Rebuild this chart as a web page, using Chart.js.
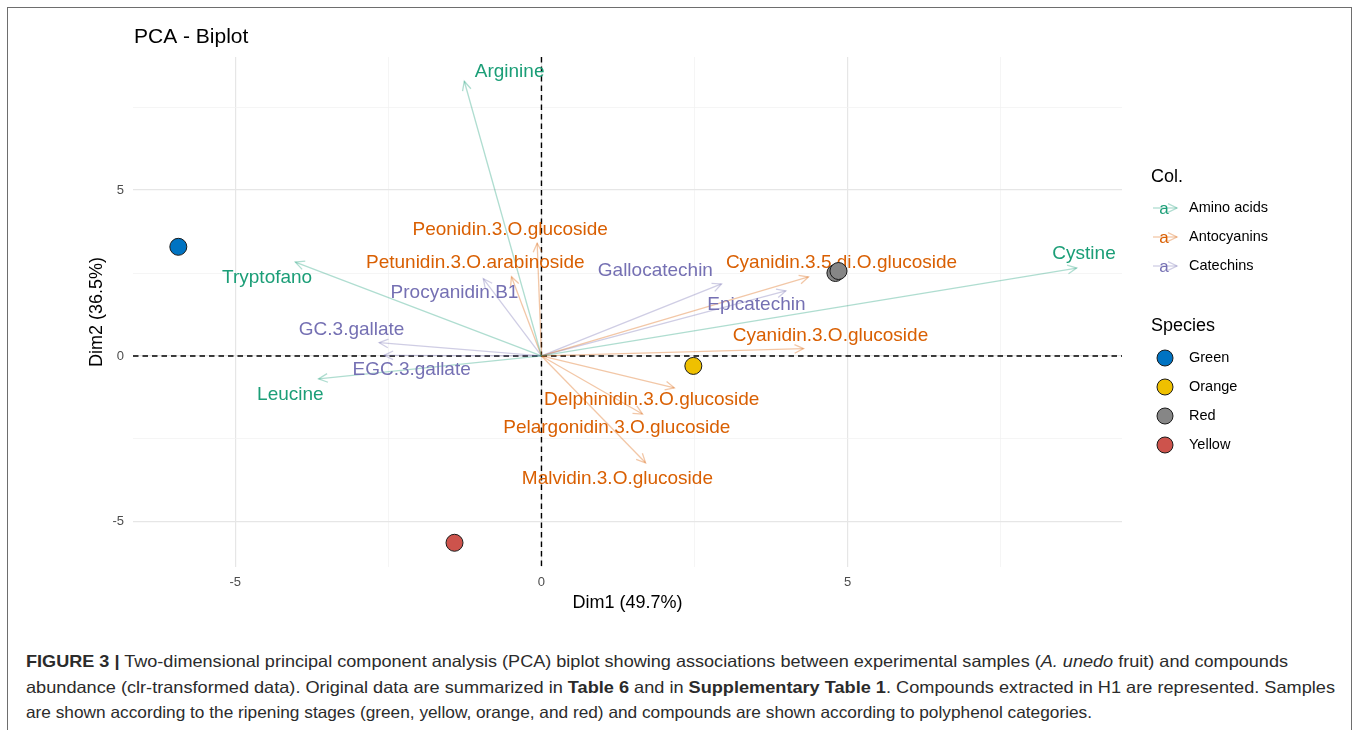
<!DOCTYPE html>
<html>
<head>
<meta charset="utf-8">
<script src="https://cdn.jsdelivr.net/npm/chart.js@4.4.1/dist/chart.umd.min.js"></script>
<style>
  html, body { margin: 0; padding: 0; background: #fff; }
  body { width: 1360px; height: 730px; position: relative; overflow: hidden; font-family: "Liberation Sans", Arial, sans-serif; }
  #frame { position: absolute; left: 7px; top: 7px; width: 1345px; height: 760px; border: 1.5px solid #6e6e6e; box-sizing: border-box; }
  #chartBox { position: absolute; left: 0; top: 0; width: 1360px; height: 625px; }
  #caption { position: absolute; left: 26px; top: 649px; font-size: 16.5px; line-height: 25.5px; color: #2b2b2b; }
  #caption div { white-space: nowrap; transform-origin: 0 50%; }
</style>
</head>
<body>
<div id="frame"></div>
<div id="chartBox"><canvas id="biplot" width="1360" height="625"></canvas></div>
<div id="caption">
  <div class="capLine"><b>FIGURE 3 |</b> Two-dimensional principal component analysis (PCA) biplot showing associations between experimental samples (<i>A. unedo</i> fruit) and compounds</div>
  <div class="capLine">abundance (clr-transformed data). Original data are summarized in <b>Table 6</b> and in <b>Supplementary Table 1</b>. Compounds extracted in H1 are represented. Samples</div>
  <div class="capLine">are shown according to the ripening stages (green, yellow, orange, and red) and compounds are shown according to polyphenol categories.</div>
</div>
<script>
// variables (arrows) : coordonnées sur Dim1 / Dim2
const varNames = ['Arginine', 'Tryptofano', 'Leucine', 'Cystine',
  'Peonidin.3.O.glucoside', 'Petunidin.3.O.arabinoside', 'Cyanidin.3.5.di.O.glucoside',
  'Cyanidin.3.O.glucoside', 'Delphinidin.3.O.glucoside', 'Pelargonidin.3.O.glucoside',
  'Malvidin.3.O.glucoside', 'Procyanidin.B1', 'GC.3.gallate', 'EGC.3.gallate',
  'Gallocatechin', 'Epicatechin'];
const varGroup = [0, 0, 0, 0, 1, 1, 1, 1, 1, 1, 1, 2, 2, 2, 2, 2];
const varDim1 = [-1.26, -4.02, -3.64, 8.74, -0.07, -0.49, 4.36, 4.28, 2.17, 1.65, 1.70, -0.95, -2.65, -2.57, 2.94, 3.99];
const varDim2 = [8.28, 2.83, -0.69, 2.65, 3.40, 2.39, 2.38, 0.22, -0.96, -1.75, -3.22, 2.33, 0.40, 0.02, 2.17, 1.96];
// label positions (repelled), in data units
const labelDim1 = [-0.52, -4.48, -4.10, 8.86, -0.51, -1.08, 4.90, 4.72, 1.80, 1.23, 1.24, -1.42, -3.10, -2.12, 1.86, 3.51];
const labelDim2 = [8.58, 2.35, -1.17, 3.07, 3.80, 2.80, 2.80, 0.61, -1.33, -2.17, -3.70, 1.90, 0.78, -0.42, 2.56, 1.54];

const groupNames = ['Amino acids', 'Antocyanins', 'Catechins'];
const groupColors = ['#1B9E77', '#D95F02', '#7570B3'];
const arrowAlpha = 0.35;

// individuals (samples)
const speciesNames = ['Green', 'Orange', 'Red', 'Yellow'];
const speciesColors = ['#0073C2', '#EFC000', '#868686', '#CD534C'];
const sampleDim1 = [-5.93, 2.48, 4.80, 4.85, -1.42];
const sampleDim2 = [3.29, -0.30, 2.50, 2.56, -5.63];
const sampleSpecies = [0, 1, 2, 2, 3];

// axes
const xMajor = [-5, 0, 5];
const xMinor = [-2.5, 2.5, 7.5];
const yMajor = [-5, 0, 5];
const yMinor = [-2.5, 2.5, 7.5];
const xTitle = 'Dim1 (49.7%)';
const yTitle = 'Dim2 (36.5%)';
const chartTitle = 'PCA - Biplot';

const FONT = '"Liberation Sans", Arial, sans-serif';

function hexA(hex, a) {
  const n = parseInt(hex.slice(1), 16);
  return `rgba(${(n >> 16) & 255},${(n >> 8) & 255},${n & 255},${a})`;
}

function drawHead(ctx, x0, y0, x1, y1, color) {
  const ang = Math.atan2(y1 - y0, x1 - x0);
  const len = 10, spread = Math.PI / 7;
  ctx.save();
  ctx.strokeStyle = color;
  ctx.lineWidth = 1.3;
  ctx.beginPath();
  ctx.moveTo(x1 - len * Math.cos(ang - spread), y1 - len * Math.sin(ang - spread));
  ctx.lineTo(x1, y1);
  ctx.lineTo(x1 - len * Math.cos(ang + spread), y1 - len * Math.sin(ang + spread));
  ctx.stroke();
  ctx.restore();
}

// datasets : flèches d'abord (order 1), points ensuite (order 0, dessinés par-dessus)
const datasets = [];
varNames.forEach((name, i) => {
  datasets.push({
    kind: 'arrow',
    label: name,
    data: [{x: 0, y: 0}, {x: varDim1[i], y: varDim2[i]}],
    showLine: true,
    borderColor: hexA(groupColors[varGroup[i]], arrowAlpha),
    borderWidth: 1.3,
    pointRadius: 0,
    order: 1
  });
});
speciesNames.forEach((sp, s) => {
  const pts = [];
  sampleSpecies.forEach((k, j) => { if (k === s) pts.push({x: sampleDim1[j], y: sampleDim2[j]}); });
  datasets.push({
    kind: 'sample',
    label: sp,
    data: pts,
    backgroundColor: speciesColors[s],
    borderColor: '#1a1a1a',
    borderWidth: 1,
    pointRadius: 8.5,
    order: 0
  });
});

const biplotPlugin = {
  id: 'biplot',
  beforeDatasetsDraw(chart) {
    const {ctx, chartArea: a, scales: {x, y}} = chart;
    ctx.save();
    ctx.strokeStyle = '#000';
    ctx.lineWidth = 1.4;
    ctx.setLineDash([5.5, 4]);
    const x0 = x.getPixelForValue(0), y0 = y.getPixelForValue(0);
    ctx.beginPath();
    ctx.moveTo(a.left, y0); ctx.lineTo(a.right, y0);
    ctx.moveTo(x0, a.top); ctx.lineTo(x0, a.bottom);
    ctx.stroke();
    ctx.restore();
  },
  afterDatasetDraw(chart, args) {
    const ds = chart.data.datasets[args.index];
    if (ds.kind !== 'arrow') return;
    const {ctx, scales: {x, y}} = chart;
    const pts = args.meta.data;
    drawHead(ctx, pts[0].x, pts[0].y, pts[1].x, pts[1].y, ds.borderColor);
    if (args.index === 0) {
      ctx.save();
      ctx.font = '19px ' + FONT;
      ctx.textAlign = 'center';
      ctx.textBaseline = 'middle';
      varNames.forEach((name, i) => {
        ctx.fillStyle = groupColors[varGroup[i]];
        ctx.fillText(name, x.getPixelForValue(labelDim1[i]), y.getPixelForValue(labelDim2[i]));
      });
      ctx.restore();
    }
  },
  afterDraw(chart) {
    const {ctx, chartArea: a} = chart;
    ctx.save();
    ctx.fillStyle = '#000';
    // titre
    ctx.font = '21px ' + FONT;
    ctx.textAlign = 'left';
    ctx.textBaseline = 'middle';
    ctx.fillText(chartTitle, a.left + 1, 37);
    // titres des axes
    ctx.font = '18px ' + FONT;
    ctx.textAlign = 'center';
    ctx.fillText(xTitle, (a.left + a.right) / 2, 603);
    ctx.save();
    ctx.translate(97, (a.top + a.bottom) / 2);
    ctx.rotate(-Math.PI / 2);
    ctx.fillText(yTitle, 0, 0);
    ctx.restore();

    // légende
    const lx = 1151;
    ctx.textAlign = 'left';
    ctx.font = '18px ' + FONT;
    ctx.fillText('Col.', lx, 177);
    groupNames.forEach((g, i) => {
      const yy = 208 + i * 29;
      const col = groupColors[i];
      ctx.strokeStyle = hexA(col, arrowAlpha);
      ctx.lineWidth = 1.3;
      ctx.beginPath();
      ctx.moveTo(lx + 2, yy); ctx.lineTo(lx + 26, yy);
      ctx.stroke();
      drawHead(ctx, lx + 2, yy, lx + 26, yy, hexA(col, arrowAlpha));
      ctx.fillStyle = col;
      ctx.font = '17px ' + FONT;
      ctx.textAlign = 'center';
      ctx.fillText('a', lx + 13, yy + 1);
      ctx.fillStyle = '#000';
      ctx.font = '14.5px ' + FONT;
      ctx.textAlign = 'left';
      ctx.fillText(g, lx + 38, yy);
    });
    ctx.font = '18px ' + FONT;
    ctx.fillText('Species', lx, 326);
    speciesNames.forEach((sp, i) => {
      const yy = 358 + i * 29;
      ctx.beginPath();
      ctx.arc(lx + 14, yy, 8, 0, Math.PI * 2);
      ctx.fillStyle = speciesColors[i];
      ctx.fill();
      ctx.strokeStyle = '#1a1a1a';
      ctx.lineWidth = 1;
      ctx.stroke();
      ctx.fillStyle = '#000';
      ctx.font = '14.5px ' + FONT;
      ctx.fillText(sp, lx + 38, yy);
    });
    ctx.restore();
  }
};

function gridOpts(major) {
  return {
    color: c => major.includes(c.tick.value) ? '#E6E6E6' : '#F0F0F0',
    lineWidth: c => major.includes(c.tick.value) ? 1.2 : 0.7,
    drawTicks: false
  };
}

new Chart(document.getElementById('biplot').getContext('2d'), {
  type: 'scatter',
  data: {datasets: datasets},
  plugins: [biplotPlugin],
  options: {
    responsive: false,
    animation: false,
    events: [],
    layout: {padding: {left: 0, right: 238, top: 57, bottom: 0}},
    plugins: {legend: {display: false}, tooltip: {enabled: false}, title: {display: false}},
    scales: {
      x: {
        type: 'linear',
        min: -6.67, max: 9.48,
        afterBuildTicks: s => { s.ticks = xMajor.concat(xMinor).sort((p, q) => p - q).map(v => ({value: v})); },
        afterFit: s => { s.height = 58; },
        grid: gridOpts(xMajor),
        border: {display: false},
        ticks: {
          padding: 8,
          color: '#4D4D4D',
          font: {family: FONT, size: 13},
          callback: v => xMajor.includes(v) ? String(v) : ''
        }
      },
      y: {
        type: 'linear',
        min: -6.36, max: 9.01,
        afterBuildTicks: s => { s.ticks = yMajor.concat(yMinor).sort((p, q) => p - q).map(v => ({value: v})); },
        afterFit: s => { s.width = 133; },
        grid: gridOpts(yMajor),
        border: {display: false},
        ticks: {
          padding: 9,
          color: '#4D4D4D',
          font: {family: FONT, size: 13},
          callback: v => yMajor.includes(v) ? String(v) : ''
        }
      }
    }
  }
});

// ajuster la largeur des lignes de la légende de la figure
const capTargets = [1262, 1309, 1066];
document.querySelectorAll('.capLine').forEach((el, i) => {
  el.style.display = 'inline-block';
  const w = el.getBoundingClientRect().width;
  el.style.transform = `scaleX(${capTargets[i] / w})`;
  el.style.display = 'block';
  el.style.width = w + 'px';
});
</script>
</body>
</html>
